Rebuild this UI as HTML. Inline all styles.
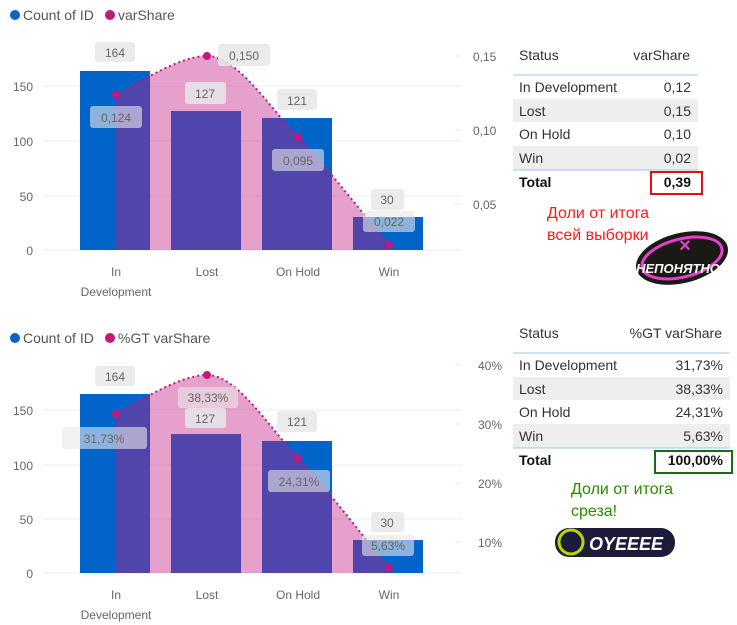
<!DOCTYPE html>
<html><head><meta charset="utf-8"><style>
body{margin:0;background:#fff;width:737px;height:625px;overflow:hidden}
svg{display:block}
text{font-family:"Liberation Sans","DejaVu Sans",sans-serif}
</style></head><body>
<svg width="737" height="625" viewBox="0 0 737 625" xmlns="http://www.w3.org/2000/svg">
<!-- ===== Chart 1 ===== -->
<circle cx="15" cy="15" r="5" fill="#0a63c8"/><text x="23" y="20" font-size="14" fill="#555">Count of ID</text>
<circle cx="110" cy="15" r="5" fill="#c0187e"/><text x="118" y="20" font-size="14" fill="#555">varShare</text>
<g stroke="#ececec" stroke-width="1">
<line x1="43" y1="86" x2="462" y2="86"/><line x1="43" y1="141" x2="462" y2="141"/><line x1="43" y1="196" x2="462" y2="196"/><line x1="43" y1="250" x2="462" y2="250"/>
<line x1="455" y1="56" x2="462" y2="56"/><line x1="455" y1="130" x2="462" y2="130"/><line x1="455" y1="204" x2="462" y2="204"/>
</g>
<g font-size="12" fill="#666" text-anchor="end"><text x="33" y="91">150</text><text x="33" y="146">100</text><text x="33" y="201">50</text><text x="33" y="255">0</text></g>
<g font-size="12" fill="#666"><text x="473" y="61">0,15</text><text x="473" y="135">0,10</text><text x="473" y="209">0,05</text></g>
<g fill="#0064c8"><rect x="80" y="71" width="70" height="179"/><rect x="171" y="111" width="70" height="139"/><rect x="262" y="118" width="70" height="132"/><rect x="353" y="217" width="70" height="33"/></g>
<path d="M116,94.5 C131,88 177,56 207,56 C237,56 268,105.5 298,137 C328,168.5 374,227 389,245 L389,250 L116,250 Z" fill="rgb(193,26,130)" fill-opacity="0.41"/>
<path d="M116,94.5 C131,88 177,56 207,56 C237,56 268,105.5 298,137 C328,168.5 374,227 389,245" fill="none" stroke="#c0187e" stroke-width="2" stroke-dasharray="2,3"/>
<g fill="#c0187e"><circle cx="116" cy="94.5" r="4"/><circle cx="207" cy="56" r="4"/><circle cx="298" cy="137" r="4"/><circle cx="389" cy="245" r="4"/></g>
<g font-size="12" fill="#666" text-anchor="middle"><text x="116" y="276">In</text><text x="116" y="296">Development</text><text x="207" y="276">Lost</text><text x="298" y="276">On Hold</text><text x="389" y="276">Win</text></g>
<g fill="#e8e8e8" fill-opacity="0.85">
<rect x="95" y="42" width="40" height="20" rx="3"/><rect x="218" y="44" width="52" height="22" rx="3"/><rect x="185" y="82" width="41" height="22" rx="3"/><rect x="90" y="106" width="52" height="22" rx="3" fill-opacity="0.6"/><rect x="277" y="89" width="40" height="21" rx="3"/><rect x="272" y="149" width="52" height="22" rx="3" fill-opacity="0.6"/><rect x="371" y="189" width="33" height="21" rx="3"/><rect x="363" y="211" width="52" height="21" rx="3" fill-opacity="0.6"/>
</g>
<g font-size="12" fill="#666" text-anchor="middle"><text x="115" y="57">164</text><text x="244" y="60">0,150</text><text x="205" y="98">127</text><text x="116" y="122">0,124</text><text x="297" y="105">121</text><text x="298" y="165">0,095</text><text x="387" y="204">30</text><text x="389" y="226">0,022</text></g>
<!-- table 1 -->
<g font-size="14" fill="#333">
<text x="519" y="60">Status</text><text x="690" y="60" text-anchor="end">varShare</text>
<rect x="513" y="99" width="185" height="23" fill="#eeeeee"/><rect x="513" y="146" width="185" height="24" fill="#eeeeee"/>
<line x1="513" y1="75" x2="698" y2="75" stroke="#9cc8ea"/><line x1="513" y1="170" x2="698" y2="170" stroke="#9cc8ea"/>
<text x="519" y="92">In Development</text><text x="691" y="92" text-anchor="end">0,12</text>
<text x="519" y="116">Lost</text><text x="691" y="116" text-anchor="end">0,15</text>
<text x="519" y="139">On Hold</text><text x="691" y="139" text-anchor="end">0,10</text>
<text x="519" y="163">Win</text><text x="691" y="163" text-anchor="end">0,02</text>
<text x="519" y="187" font-weight="bold" fill="#111">Total</text><text x="691" y="187" text-anchor="end" font-weight="bold" fill="#111">0,39</text>
</g>
<rect x="651" y="172" width="51" height="22" fill="none" stroke="#e01010" stroke-width="2"/>
<g font-size="16" fill="#ff1a1a"><text x="547" y="218">Доли от итога</text><text x="547" y="240">всей выборки</text></g>
<g transform="translate(682,258) rotate(-14)"><ellipse cx="0" cy="0" rx="47" ry="25" fill="#1a1a14"/><ellipse cx="0" cy="0" rx="41" ry="19" fill="none" stroke="#e83fd0" stroke-width="3"/></g>
<text x="685" y="252" font-size="20" font-weight="bold" fill="#e83fd0" text-anchor="middle">×</text>
<text x="678" y="273" font-size="13" font-weight="bold" font-style="italic" fill="#fff" text-anchor="middle">НЕПОНЯТНО</text>
<!-- ===== Chart 2 ===== -->
<circle cx="15" cy="338" r="5" fill="#0a63c8"/><text x="23" y="343" font-size="14" fill="#555">Count of ID</text>
<circle cx="110" cy="338" r="5" fill="#c0187e"/><text x="118" y="343" font-size="14" fill="#555">%GT varShare</text>
<g stroke="#ececec" stroke-width="1">
<line x1="43" y1="410" x2="462" y2="410"/><line x1="43" y1="465" x2="462" y2="465"/><line x1="43" y1="519" x2="462" y2="519"/><line x1="43" y1="573" x2="462" y2="573"/>
<line x1="455" y1="365" x2="462" y2="365"/><line x1="455" y1="424" x2="462" y2="424"/><line x1="455" y1="483" x2="462" y2="483"/><line x1="455" y1="542" x2="462" y2="542"/>
</g>
<g font-size="12" fill="#666" text-anchor="end"><text x="33" y="415">150</text><text x="33" y="470">100</text><text x="33" y="524">50</text><text x="33" y="578">0</text></g>
<g font-size="12" fill="#666"><text x="478" y="370">40%</text><text x="478" y="429">30%</text><text x="478" y="488">20%</text><text x="478" y="547">10%</text></g>
<g fill="#0064c8"><rect x="80" y="394" width="70" height="179"/><rect x="171" y="434" width="70" height="139"/><rect x="262" y="441" width="70" height="132"/><rect x="353" y="540" width="70" height="33"/></g>
<path d="M116,414 C131,407 177,375 207,375 C237,375 268,426 298,458 C328,490 374,550 389,568 L389,573 L116,573 Z" fill="rgb(193,26,130)" fill-opacity="0.41"/>
<path d="M116,414 C131,407 177,375 207,375 C237,375 268,426 298,458 C328,490 374,550 389,568" fill="none" stroke="#c0187e" stroke-width="2" stroke-dasharray="2,3"/>
<g fill="#c0187e"><circle cx="116" cy="414" r="4"/><circle cx="207" cy="375" r="4"/><circle cx="298" cy="458" r="4"/><circle cx="389" cy="568" r="4"/></g>
<g font-size="12" fill="#666" text-anchor="middle"><text x="116" y="599">In</text><text x="116" y="619">Development</text><text x="207" y="599">Lost</text><text x="298" y="599">On Hold</text><text x="389" y="599">Win</text></g>
<g fill="#e8e8e8" fill-opacity="0.85">
<rect x="95" y="366" width="40" height="20" rx="3"/><rect x="178" y="387" width="60" height="21" rx="3" fill-opacity="0.6"/><rect x="185" y="408" width="41" height="20" rx="3"/><rect x="62" y="427" width="85" height="22" rx="3" fill-opacity="0.6"/><rect x="277" y="411" width="40" height="21" rx="3"/><rect x="268" y="470" width="62" height="22" rx="3" fill-opacity="0.6"/><rect x="371" y="512" width="33" height="20" rx="3"/><rect x="362" y="535" width="52" height="21" rx="3" fill-opacity="0.6"/>
</g>
<g font-size="12" fill="#666" text-anchor="middle"><text x="115" y="381">164</text><text x="208" y="402">38,33%</text><text x="205" y="423">127</text><text x="104" y="443">31,73%</text><text x="297" y="426">121</text><text x="299" y="486">24,31%</text><text x="387" y="527">30</text><text x="388" y="550">5,63%</text></g>
<!-- table 2 -->
<g font-size="14" fill="#333">
<text x="519" y="338">Status</text><text x="722" y="338" text-anchor="end">%GT varShare</text>
<rect x="513" y="377" width="217" height="23" fill="#eeeeee"/><rect x="513" y="424" width="217" height="24" fill="#eeeeee"/>
<line x1="513" y1="353" x2="730" y2="353" stroke="#9cc8ea"/><line x1="513" y1="448" x2="730" y2="448" stroke="#9cc8ea"/>
<text x="519" y="370">In Development</text><text x="723" y="370" text-anchor="end">31,73%</text>
<text x="519" y="394">Lost</text><text x="723" y="394" text-anchor="end">38,33%</text>
<text x="519" y="417">On Hold</text><text x="723" y="417" text-anchor="end">24,31%</text>
<text x="519" y="441">Win</text><text x="723" y="441" text-anchor="end">5,63%</text>
<text x="519" y="465" font-weight="bold" fill="#111">Total</text><text x="723" y="465" text-anchor="end" font-weight="bold" fill="#111">100,00%</text>
</g>
<rect x="655" y="451" width="77" height="22" fill="none" stroke="#1a6a1a" stroke-width="2"/>
<g font-size="16" fill="#2a8a00"><text x="571" y="494">Доли от итога</text><text x="571" y="516">среза!</text></g>
<rect x="555" y="528" width="120" height="29" rx="14" fill="#1c1c3a"/>
<circle cx="571" cy="542" r="12" fill="#1c1c3a" stroke="#b8d800" stroke-width="3"/>
<text x="626" y="550" font-size="18" font-weight="bold" font-style="italic" fill="#fff" text-anchor="middle">OYEEEE</text>
</svg>
</body></html>
